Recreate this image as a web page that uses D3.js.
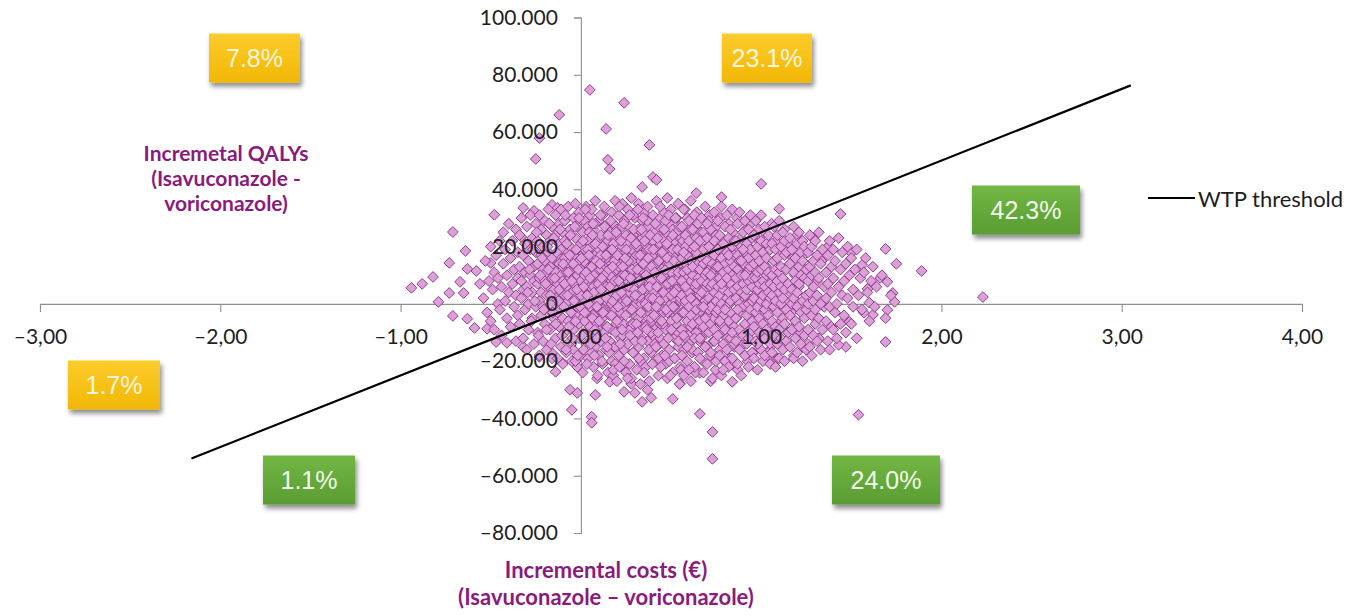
<!DOCTYPE html>
<html>
<head>
<meta charset="utf-8">
<script src="https://cdn.jsdelivr.net/npm/d3@7"></script>
<style>
  html, body { margin: 0; padding: 0; background: #fff; }
  svg { display: block; }
</style>
</head>
<body>
<svg id="chart" width="1357" height="615"></svg>
<script>
// Simulation results: [x, y] with x in axis units and y in thousands (axis shows 20.000 = 20 thousand)
const outerPoints = [
  [.05,74.7],[.24,70.2],[-.12,66],[.14,61.1],[-.23,57.9],[.38,55.5],[-.25,50.6],[.15,50.3],[.16,47.1],
  [.4,44.3],[.42,43.3],[1,41.9],[.34,40.8],[.64,38.7],[.78,37.3],[1.1,33.2],[1.44,31.4],[-.48,31.1],
  [-.32,33.5],[-.26,32.5],[-.16,34.6],[-.13,33.5],[-.71,25.1],[-.64,18.5],[-.73,14.3],[-.82,9.4],
  [-.88,7],[-.94,5.6],[-.73,3.8],[-.79,.7],[-.67,7.7],[-.63,12.2],[-.58,11.5],[-.65,3.8],[-.71,-4.2],
  [-.63,-5.2],[-.59,-8.4],[-.52,-8.7],[-.5,14.3],[-.56,7],[-.47,-13.3],[-.41,-13.6],[-.33,23.4],
  [-.32,-15],[-.23,-18.5],[-.16,-17.1],[-.14,-23.7],[-.1,-20.6],[-.06,-30],[-.02,-31.1],[-.05,-37],
  [.06,-39.4],[.06,-41.5],[.08,-31.8],[.16,-27.2],[.24,-30.7],[.28,-27.9],[.3,-31.1],[.34,-34.2],
  [.37,-30],[.39,-32.8],[.51,-33.2],[.55,-27.9],[.66,-24.1],[.66,-38.4],[.73,-44.7],[.73,-54.1],
  [.84,-27.2],[1.05,-20.6],[1.54,-38.7],[1.69,-13.3],[1.47,-15],[1.43,-14.3],[1.49,-6.3],[1.62,-3.8],
  [1.57,-3.1],[1.6,.4],[1.59,5.2],[1.56,13.6],[1.5,17.8],[1.66,9.1],[1.7,7.7],[1.73,3.8],[1.74,.7],
  [1.7,-2.1],[1.69,19.2],[1.89,11.5],[2.23,2.4]
];

const leftCore = [
  [-.54,2],[-.53,15],[-.52,-3],[-.51,8],[-.5,20],[-.5,-6],[-.49,5],[-.48,11],[-.48,-9],[-.47,17],[-.46,0],[-.46,9],[-.45,22],[-.45,-2],
  [-.44,6],[-.44,-11],[-.43,14],[-.43,25],[-.42,1],[-.42,19],[-.41,-5],[-.41,10],[-.4,28],[-.4,4],[-.39,-8],[-.39,16],[-.38,7],[-.38,22],[-.37,-1],[-.37,12],[-.36,-13],[-.36,3],[-.36,26],[-.35,9],[-.35,18],[-.35,-4],
  [-.34,13],[-.34,-7],[-.34,24],[-.33,2],[-.33,30],[-.33,8],[-.32,-12],[-.32,17],[-.32,5],[-.31,21],[-.31,-2],[-.31,11],[-.3,-16],[-.3,27],[-.3,6],[-.29,15],[-.29,-9],[-.29,0],[-.28,19],[-.28,10],[-.28,31],[-.27,-5],[-.27,4],[-.27,23],[-.26,-14],[-.26,13],[-.26,8],[-.25,-1],[-.25,18],[-.25,28],
  [-.24,7],[-.24,-10],[-.24,22],[-.24,14],[-.23,1],[-.23,31],[-.23,-18],[-.23,9],[-.22,17],[-.22,-4],[-.22,26],[-.22,4],[-.21,12],[-.21,-13],[-.21,20],[-.21,-1],[-.2,8],[-.2,29],[-.2,-7],[-.2,15],[-.19,3],[-.19,24],[-.19,-16],[-.19,11],[-.18,18],[-.18,-2],[-.18,33],[-.18,6],[-.17,-9],[-.17,13],[-.17,22],[-.17,0],[-.16,-19],[-.16,9],[-.16,27],[-.15,16],[-.15,-5],[-.15,5],
  [-.14,11],[-.14,-12],[-.14,24],[-.14,2],[-.14,31],[-.13,7],[-.13,-3],[-.13,17],[-.13,-19],[-.12,14],[-.12,28],[-.12,-8],[-.12,5],[-.12,21],[-.11,0],[-.11,10],[-.11,-15],[-.11,33],[-.11,19],[-.1,-5],[-.1,8],[-.1,25],[-.1,13],[-.1,-21],[-.09,3],[-.09,16],[-.09,-10],[-.09,29],[-.09,22],[-.08,-1],[-.08,11],[-.08,-17],[-.08,6],[-.07,18],[-.07,-6],[-.07,34],[-.07,14],[-.07,1],[-.06,-13],[-.06,9],[-.06,26],[-.06,20],[-.05,-3],[-.05,12],[-.05,-20],[-.05,4]
];

const centreCore = [
  [-.04,17],[-.04,-9],[-.04,30],[-.04,7],[-.04,-16],[-.03,2],[-.03,23],[-.03,13],[-.03,-4],[-.03,35],[-.02,-22],[-.02,10],[-.02,19],[-.02,-1],[-.02,27],[-.01,5],[-.01,-12],[-.01,15],[-.01,-7],[-.01,32],[0,8],[0,21],[0,-18],[0,0],[0,12],[.01,-5],[.01,25],[.01,4],[.01,-24],[.01,16],[.02,10],[.02,-10],[.02,29],[.02,1],[.02,19],[.03,-14],[.03,7],[.03,34],[.03,14],[.03,-3],[.04,22],[.04,-19],[.04,11],[.04,3],[.04,27],[.05,-8],[.05,17],[.05,6],[.05,-1],[.05,31],[.05,13],[-.03,-20],[.02,-6],[0,3],
  [.06,-11],[.06,20],[.06,2],[.06,33],[.06,9],[.07,-22],[.07,14],[.07,-4],[.07,26],[.07,6],[.08,17],[.08,-15],[.08,0],[.08,36],[.08,11],[.09,-7],[.09,23],[.09,4],[.09,-26],[.09,15],[.1,8],[.1,-2],[.1,29],[.1,-18],[.1,19],[.11,12],[.11,-9],[.11,3],[.11,24],[.11,-13],[.12,31],[.12,7],[.12,16],[.12,-5],[.12,-21],[.13,10],[.13,21],[.13,-1],[.13,34],[.13,5],[.14,-16],[.14,13],[.14,27],[.14,-8],[.14,1],[.15,18],[.15,-24],[.15,9],[.15,-3],[.15,22],[.06,-17],[.08,28],[.09,-12],[.1,1],[.11,17],[.12,-2],[.13,-10],[.14,6],[.15,14],[.07,10],
  [.16,4],[.16,-13],[.16,25],[.16,15],[.16,-4],[.17,32],[.17,8],[.17,-20],[.17,19],[.17,0],[.18,11],[.18,-8],[.18,28],[.18,-25],[.18,6],[.19,16],[.19,-2],[.19,36],[.19,-15],[.19,22],[.2,3],[.2,12],[.2,-10],[.2,26],[.2,-27],[.21,9],[.21,-5],[.21,18],[.21,31],[.21,-18],[.22,1],[.22,14],[.22,-12],[.22,23],[.22,7],[.23,-22],[.23,35],[.23,10],[.23,-1],[.23,20],[.24,-7],[.24,5],[.24,29],[.24,16],[.24,-16],[.25,13],[.25,-3],[.25,24],[.25,2],[.25,-24],[.16,10],[.17,-9],[.18,21],[.19,5],[.2,-6],[.21,13],[.22,-3],[.23,27],[.24,9],[.25,18],[.17,14],[.19,-21],[.21,3],[.23,-11],
  [.26,8],[.26,-14],[.26,21],[.26,33],[.26,-2],[.27,12],[.27,-21],[.27,4],[.27,27],[.27,16],[.28,-7],[.28,1],[.28,37],[.28,-26],[.28,19],[.29,10],[.29,-11],[.29,24],[.29,6],[.29,-17],[.3,14],[.3,-4],[.3,30],[.3,0],[.3,22],[.31,-23],[.31,9],[.31,17],[.31,-9],[.31,3],[.32,26],[.32,-15],[.32,12],[.32,35],[.32,-1],[.33,7],[.33,-28],[.33,19],[.33,-6],[.33,15],[.34,2],[.34,29],[.34,-12],[.34,11],[.34,23],[.35,-19],[.35,5],[.35,-3],[.35,18],[.35,32],[.26,13],[.27,-9],[.28,9],[.29,-1],[.3,7],[.31,20],[.32,4],[.33,-20],[.34,-8],[.35,11],[.28,15],[.3,-13],[.32,-5],[.34,17],[.27,-3],[.29,31],
  [.36,10],[.36,-8],[.36,24],[.36,1],[.36,-22],[.37,16],[.37,34],[.37,5],[.37,-13],[.37,20],[.38,-3],[.38,12],[.38,-27],[.38,28],[.38,7],[.39,-17],[.39,14],[.39,2],[.39,22],[.39,-6],[.4,31],[.4,9],[.4,-11],[.4,17],[.4,-1],[.41,25],[.41,-20],[.41,4],[.41,13],[.41,-9],[.42,19],[.42,36],[.42,0],[.42,-15],[.42,11],[.43,-25],[.43,6],[.43,27],[.43,15],[.43,-4],[.44,21],[.44,-12],[.44,3],[.44,30],[.44,9],[.45,-18],[.45,13],[.45,-2],[.45,23],[.45,8],[.36,15],[.37,-1],[.38,19],[.39,-10],[.4,4],[.41,8],[.42,-5],[.43,11],[.44,-7],[.45,17],[.37,27],[.39,8],[.41,-14],[.43,-19],[.38,2],[.4,22],[.42,14],[.44,1],
  [.46,6],[.46,-14],[.46,19],[.46,32],[.46,-3],[.47,11],[.47,-21],[.47,25],[.47,2],[.47,15],[.48,-8],[.48,8],[.48,37],[.48,-26],[.48,20],[.49,13],[.49,-1],[.49,28],[.49,-16],[.49,4],[.5,17],[.5,-10],[.5,23],[.5,0],[.5,33],[.51,-5],[.51,10],[.51,-24],[.51,15],[.51,26],[.52,3],[.52,-12],[.52,21],[.52,7],[.52,-19],[.53,12],[.53,30],[.53,-2],[.53,18],[.53,-7],[.54,5],[.54,24],[.54,-15],[.54,14],[.54,35],[.55,-22],[.55,9],[.55,-4],[.55,20],[.55,1],[.46,10],[.47,-9],[.48,14],[.49,7],[.5,-6],[.51,19],[.52,-1],[.53,4],[.54,-10],[.55,13],[.47,29],[.49,-20],[.51,2],[.53,25],[.48,-3],[.5,11],[.52,16],[.54,9]
];

const rightCore = [
  [.56,16],[.56,-9],[.56,27],[.56,3],[.56,-18],[.57,11],[.57,-3],[.57,33],[.57,7],[.57,-25],[.58,20],[.58,-12],[.58,1],[.58,14],[.58,24],[.59,-6],[.59,9],[.59,-20],[.59,30],[.59,17],[.6,4],[.6,-14],[.6,12],[.6,-1],[.6,22],[.61,-27],[.61,8],[.61,36],[.61,15],[.61,-8],[.62,2],[.62,19],[.62,-16],[.62,26],[.62,10],[.63,-4],[.63,13],[.63,-22],[.63,6],[.63,31],[.64,18],[.64,-10],[.64,0],[.64,23],[.64,-2],[.65,9],[.65,-17],[.65,28],[.65,14],[.65,5],[.56,8],[.57,-11],[.58,6],[.59,12],[.6,29],[.61,-4],[.62,13],[.63,20],[.64,7],[.65,-7],[.57,18],[.59,-15],[.61,2],[.63,-12],[.6,-23],[.62,-7],
  [.66,12],[.66,-6],[.66,22],[.66,-19],[.66,3],[.67,30],[.67,8],[.67,-12],[.67,16],[.67,-1],[.68,25],[.68,-24],[.68,5],[.68,14],[.68,-8],[.69,19],[.69,1],[.69,34],[.69,-15],[.69,10],[.7,-4],[.7,23],[.7,7],[.7,-21],[.7,15],[.71,-10],[.71,29],[.71,2],[.71,12],[.71,-2],[.72,18],[.72,-17],[.72,6],[.72,26],[.72,-7],[.73,11],[.73,-26],[.73,21],[.73,0],[.73,14],[.74,-13],[.74,32],[.74,4],[.74,17],[.74,-5],[.75,9],[.75,-20],[.75,24],[.75,1],[.75,13],[.66,-12],[.67,4],[.68,19],[.69,-5],[.7,11],[.71,20],[.72,-1],[.73,7],[.74,-9],[.75,-3],[.68,-1],[.7,28],[.72,10],[.74,22],
  [.76,6],[.76,-11],[.76,19],[.76,29],[.76,-2],[.77,13],[.77,-18],[.77,3],[.77,24],[.77,9],[.78,-7],[.78,16],[.78,-25],[.78,0],[.78,34],[.79,11],[.79,-14],[.79,21],[.79,5],[.79,-4],[.8,27],[.8,8],[.8,-20],[.8,14],[.8,-9],[.81,2],[.81,18],[.81,-1],[.81,31],[.81,-16],[.82,12],[.82,-6],[.82,23],[.82,4],[.82,-22],[.83,15],[.83,-12],[.83,7],[.83,26],[.83,-3],[.84,10],[.84,-19],[.84,20],[.84,1],[.84,33],[.85,-8],[.85,13],[.85,-14],[.85,5],[.85,17],[.76,13],[.78,7],[.8,-2],[.82,17],[.84,-10],[.77,-6],[.79,-23],[.81,9],[.83,1],[.85,22],
  [.86,9],[.86,-13],[.86,22],[.86,2],[.86,-5],[.87,17],[.87,-21],[.87,28],[.87,6],[.87,12],[.88,-9],[.88,0],[.88,32],[.88,15],[.88,-16],[.89,4],[.89,20],[.89,-3],[.89,10],[.89,-25],[.9,25],[.9,-11],[.9,7],[.9,14],[.9,-1],[.91,18],[.91,-18],[.91,3],[.91,29],[.91,-7],[.92,11],[.92,-14],[.92,21],[.92,5],[.92,-4],[.93,16],[.93,-22],[.93,8],[.93,26],[.93,0],[.94,-10],[.94,13],[.94,-2],[.94,31],[.94,19],[.95,6],[.95,-17],[.95,23],[.95,9],[.95,-6],[.87,-2],[.89,15],[.91,10],[.93,-12],[.95,1],[.9,19],
  [.96,14],[.96,-8],[.96,24],[.96,2],[.96,-19],[.97,9],[.97,-3],[.97,29],[.97,17],[.97,-13],[.98,5],[.98,20],[.98,-23],[.98,11],[.98,-1],[.99,26],[.99,-10],[.99,7],[.99,15],[.99,-5],[1,1],[1,22],[1,-16],[1,12],[1,31],[1.01,-7],[1.01,8],[1.01,18],[1.01,-20],[1.01,3],[1.02,13],[1.02,-2],[1.02,27],[1.02,-12],[1.02,6],[1.03,21],[1.03,-9],[1.03,10],[1.03,0],[1.03,16],[1.04,-17],[1.04,4],[1.04,24],[1.04,-4],[1.04,11],[1.05,-14],[1.05,19],[1.05,7],[1.05,-21],[1.05,2],[.98,-14],[1.02,-18],
  [1.06,10],[1.06,-6],[1.06,21],[1.06,-17],[1.06,3],[1.07,15],[1.07,-11],[1.07,27],[1.07,6],[1.07,-1],[1.08,-22],[1.08,12],[1.08,1],[1.08,19],[1.08,-8],[1.09,24],[1.09,-14],[1.09,8],[1.09,-3],[1.09,16],[1.1,4],[1.1,-19],[1.1,11],[1.1,29],[1.1,-9],[1.11,0],[1.11,20],[1.11,-12],[1.11,13],[1.11,6],[1.12,-5],[1.12,25],[1.12,-16],[1.12,9],[1.12,2],[1.13,17],[1.13,-20],[1.13,5],[1.13,-7],[1.13,22],[1.14,12],[1.14,-2],[1.14,-13],[1.14,18],[1.15,7],[1.15,-10],
  [1.16,14],[1.16,-4],[1.16,23],[1.16,-15],[1.17,5],[1.17,19],[1.17,-9],[1.17,0],[1.18,11],[1.18,-19],[1.18,27],[1.18,2],[1.19,-6],[1.19,16],[1.19,8],[1.19,-12],[1.2,21],[1.2,-1],[1.2,4],[1.2,-17],[1.21,13],[1.21,25],[1.21,-8],[1.21,7],[1.22,-3],[1.22,18],[1.22,-14],[1.22,10],[1.23,1],[1.23,22],[1.23,-20],[1.23,15],[1.24,-5],[1.24,9],[1.24,-11],[1.24,20],[1.25,3],[1.25,12],[1.25,-16],[1.25,-2],
  [1.26,8],[1.26,-9],[1.26,18],[1.26,0],[1.27,-15],[1.27,13],[1.27,24],[1.27,4],[1.28,-4],[1.28,10],[1.28,-18],[1.28,20],[1.29,1],[1.29,15],[1.29,-11],[1.29,6],[1.3,-7],[1.3,22],[1.3,11],[1.3,-2],[1.31,17],[1.31,-13],[1.31,3],[1.32,9],[1.32,-5],[1.32,25],[1.33,14],[1.33,-16],[1.33,0],[1.34,19],[1.34,-9],[1.35,6],
  [1.36,11],[1.36,-6],[1.36,2],[1.37,17],[1.37,-13],[1.37,7],[1.38,-1],[1.38,22],[1.38,-16],[1.39,13],[1.39,4],[1.4,-9],[1.4,19],[1.4,9],[1.41,-3],[1.41,15],[1.42,0],[1.42,-12],[1.43,23],[1.43,6],[1.44,-7],[1.44,12],[1.45,3],[1.45,18],
  [1.46,8],[1.46,-4],[1.47,14],[1.47,-10],[1.48,2],[1.48,20],[1.49,10],[1.5,-7],[1.5,16],[1.51,5],[1.51,-1],[1.52,12],[1.53,-12],[1.53,19],[1.54,3],[1.55,9],
  [1.56,-2],[1.57,11],[1.58,16],[1.59,4],[1.6,-6],[1.61,8],[1.62,13],[1.63,-1],[1.64,6],
  [1.67,10],[1.69,-5],[1.72,3],[1.75,14]
];

const denseCore = [
  [-.295,4],[-.285,12],[-.275,-6],[-.265,19],[-.255,1],[-.245,25],[-.235,-11],[-.225,10],[-.215,16],[-.205,-2],
  [-.195,7],[-.19,-9],[-.185,20],[-.18,12],[-.175,28],[-.17,3],[-.165,-14],[-.16,16],[-.155,-3],[-.15,23],[-.145,9],[-.14,-7],[-.135,18],[-.125,1],[-.115,26],[-.105,-11],
  [-.098,14],[-.094,-1],[-.09,7],[-.086,31],[-.082,-16],[-.078,21],[-.074,3],[-.07,11],[-.066,-8],[-.062,17],[-.058,24],[-.054,-3],[-.05,8],[-.046,-12],[-.042,14],[-.038,1],[-.034,27],[-.03,-6],[-.026,19],[-.022,5],[-.018,-18],[-.014,12],[-.01,30],[-.005,-1],
  [.003,16],[.007,-11],[.012,22],[.016,6],[.021,-3],[.025,33],[.029,11],[.034,-21],[.038,19],[.042,0],[.047,25],[.051,9],[.055,-14],[.06,13],[.064,-5],[.068,28],[.072,4],[.077,-9],[.081,21],[.085,15],[.089,-1],[.093,-25],[.097,7],[.015,-16],[.045,17],[.075,-18],[.035,3],[.065,24],
  [.102,-6],[.106,14],[.109,31],[.113,5],[.117,-20],[.121,20],[.124,-3],[.128,10],[.132,27],[.136,-12],[.14,17],[.143,2],[.147,-8],[.151,24],[.155,12],[.158,-17],[.162,6],[.166,29],[.17,-4],[.173,19],[.177,1],[.181,-23],[.185,15],[.188,8],[.192,-10],[.196,25],[.199,3],[.116,9],[.146,-15],[.176,13],
  [.203,17],[.207,-1],[.21,8],[.214,34],[.218,-14],[.222,22],[.225,4],[.229,-9],[.233,13],[.237,28],[.24,-20],[.244,10],[.248,-4],[.252,19],[.255,1],[.259,-26],[.263,15],[.267,6],[.27,31],[.274,-11],[.278,23],[.282,-2],[.285,12],[.289,-17],[.293,26],[.297,5],[.215,-22],[.245,16],[.275,9],[.29,-7],
  [.302,3],[.306,21],[.309,-7],[.313,12],[.317,33],[.321,-19],[.324,8],[.328,17],[.332,-3],[.336,26],[.339,-13],[.343,5],[.347,14],[.351,-24],[.354,22],[.358,0],[.362,10],[.366,-9],[.369,29],[.373,16],[.377,-16],[.381,6],[.384,24],[.388,-5],[.392,13],[.396,-21],[.399,2],[.315,-10],[.345,30],[.375,-1],
  [.402,19],[.406,-4],[.41,11],[.413,28],[.417,-15],[.421,6],[.425,23],[.428,-10],[.432,15],[.436,1],[.44,34],[.443,-22],[.447,9],[.451,18],[.455,-7],[.458,4],[.462,26],[.466,-18],[.47,12],[.473,-2],[.477,21],[.481,7],[.485,-12],[.488,31],[.492,14],[.496,-25],[.499,3],[.418,-1],[.448,-6],[.478,16],
  [.502,-9],[.506,8],[.51,24],[.513,-1],[.517,15],[.521,-19],[.525,30],[.528,5],[.532,-5],[.536,19],[.54,11],[.543,-13],[.547,27],[.551,2],[.555,-23],[.558,14],[.562,-3],[.566,22],[.57,8],[.573,-16],[.577,33],[.581,0],[.585,17],[.588,-8],[.592,10],[.596,25],[.599,-11],[.518,4],[.548,-28],[.578,12],
  [.602,16],[.606,-5],[.61,3],[.613,27],[.617,-17],[.621,11],[.625,-1],[.628,21],[.632,6],[.636,-24],[.64,14],[.643,32],[.647,-9],[.651,2],[.655,19],[.658,-13],[.662,9],[.666,25],[.67,-3],[.673,15],[.677,-20],[.681,5],[.685,29],[.688,-7],[.692,12],[.696,0],[.699,-15],[.618,23],[.648,7],[.678,-11],
  [.702,20],[.706,-8],[.71,6],[.713,31],[.717,-18],[.721,13],[.725,-2],[.728,24],[.732,3],[.736,-13],[.74,17],[.743,9],[.747,-23],[.751,27],[.755,0],[.758,14],[.762,-6],[.766,21],[.77,-16],[.773,7],[.777,30],[.781,-10],[.785,11],[.788,-1],[.792,18],[.796,-20],[.72,-27],[.76,4],
  [.802,5],[.806,22],[.81,-12],[.813,14],[.817,-3],[.821,28],[.825,8],[.828,-19],[.832,17],[.836,1],[.84,-8],[.843,25],[.847,11],[.851,-15],[.855,4],[.858,19],[.862,-5],[.866,30],[.87,-23],[.873,9],[.877,15],[.881,-10],[.885,2],[.888,23],[.892,-1],[.896,12],
  [.902,-14],[.906,17],[.91,5],[.913,26],[.917,-7],[.921,11],[.925,-20],[.928,20],[.932,1],[.936,14],[.94,-10],[.943,28],[.947,7],[.951,-3],[.955,18],[.958,-17],[.962,10],[.966,3],[.97,23],[.973,-6],[.977,15],[.981,-13],[.985,8],[.992,-1],
  [1.003,16],[1.008,-10],[1.013,4],[1.018,25],[1.023,-4],[1.028,13],[1.033,-17],[1.038,9],[1.043,20],[1.048,0],[1.053,-8],[1.058,28],[1.063,6],[1.068,-14],[1.073,15],[1.078,-2],[1.083,22],[1.088,10],[1.093,-19],[1.098,3],
  [1.104,18],[1.11,-6],[1.117,8],[1.123,-15],[1.13,26],[1.136,1],[1.143,13],[1.149,-10],[1.155,21],[1.162,4],[1.168,-3],[1.175,16],[1.181,-18],[1.187,10],[1.193,-7],[1.199,24],
  [1.21,6],[1.22,-10],[1.235,17],[1.245,1],[1.26,-14],[1.27,11],[1.285,23],[1.295,-4],[1.31,8],[1.32,-12],[1.335,15],[1.35,-1],[1.37,20],[1.39,-8]
];

// Willingness-to-pay threshold line (end points)
const wtpLine = [[-2.16, -54], [3.05, 76.3]];

const xTicks = [-3, -2, -1, 0, 1, 2, 3, 4];
const xTickLabels = ["\u20133,00", "\u20132,00", "\u20131,00", "0,00", "1,00", "2,00", "3,00", "4,00"];
const yTicks = [-80, -60, -40, -20, 0, 20, 40, 60, 80, 100];
const yTickLabels = ["\u201380.000", "\u201360.000", "\u201340.000", "\u201320.000", "0", "20.000", "40.000", "60.000", "80.000", "100.000"];

// Share of simulations per region
const shareLabels = ["7.8%", "23.1%", "42.3%", "1.7%", "1.1%", "24.0%"];
const shareKinds  = ["yellow", "yellow", "green", "yellow", "green", "green"];

const yTitleLines = ["Incremetal QALYs", "(Isavuconazole -", "voriconazole)"];
const xTitleLines = ["Incremental costs (\u20ac)", "(Isavuconazole \u2013 voriconazole)"];
const legendLabel = "WTP threshold";

// ---- layout ----
const boxLayout = [
  { cx: 254.5, cy: 58,  w: 91 },
  { cx: 767,   cy: 58,  w: 90 },
  { cx: 1026,  cy: 210, w: 108 },
  { cx: 114,   cy: 385, w: 92 },
  { cx: 309,   cy: 480, w: 92 },
  { cx: 886,   cy: 480, w: 108 }
];
const boxH = 49;

const svg = d3.select("#chart");
const x = d3.scaleLinear().domain([-3, 4]).range([40, 1302]);
const y = d3.scaleLinear().domain([-80, 100]).range([533, 17.5]);

const defs = svg.append("defs");
const gradY = defs.append("linearGradient").attr("id", "gYellow").attr("x1", 0).attr("y1", 0).attr("x2", 0).attr("y2", 1);
gradY.append("stop").attr("offset", "0%").attr("stop-color", "#fbcc2c");
gradY.append("stop").attr("offset", "100%").attr("stop-color", "#f2b705");
const gradG = defs.append("linearGradient").attr("id", "gGreen").attr("x1", 0).attr("y1", 0).attr("x2", 0).attr("y2", 1);
gradG.append("stop").attr("offset", "0%").attr("stop-color", "#72b644");
gradG.append("stop").attr("offset", "100%").attr("stop-color", "#5a9d33");
const shadow = defs.append("filter").attr("id", "boxShadow").attr("x", "-20%").attr("y", "-20%").attr("width", "150%").attr("height", "160%");
shadow.append("feDropShadow").attr("dx", 2).attr("dy", 4).attr("stdDeviation", 2.5)
  .attr("flood-color", "#000").attr("flood-opacity", 0.45);

const fontTick = "Lato, 'Open Sans', sans-serif";
const axisColor = "#8f8f8f";

// axis lines and tick marks (under the points)
const xAxisG = svg.append("g").attr("transform", `translate(0,${y(0)})`)
  .call(d3.axisBottom(x).tickValues(xTicks).tickFormat("").tickSize(8).tickSizeOuter(8));
const yAxisG = svg.append("g").attr("transform", `translate(${x(0)},0)`)
  .call(d3.axisLeft(y).tickValues(yTicks).tickFormat("").tickSize(7).tickSizeOuter(7));
[xAxisG, yAxisG].forEach(g => {
  g.selectAll("path, line").attr("stroke", axisColor).attr("stroke-width", 1.1);
});

// simulation points
const allPoints = outerPoints.concat(leftCore, centreCore, denseCore, rightCore);
const diamond = d3.symbol().type(d3.symbolSquare).size(58);
svg.append("g").selectAll("path")
  .data(allPoints)
  .join("path")
  .attr("d", diamond)
  .attr("transform", d => `translate(${x(d[0])},${y(d[1])}) rotate(45)`)
  .attr("fill", "#daa0d7")
  .attr("stroke", "#8f3689")
  .attr("stroke-width", 0.9);

// WTP threshold line
svg.append("path")
  .datum(wtpLine)
  .attr("d", d3.line().x(d => x(d[0])).y(d => y(d[1])))
  .attr("stroke", "#000").attr("stroke-width", 2.2).attr("fill", "none");

// tick labels (drawn above the points)
const xLab = svg.append("g").attr("transform", `translate(0,${y(0)})`)
  .call(d3.axisBottom(x).tickValues(xTicks).tickFormat((d, i) => xTickLabels[i]).tickSize(0).tickPadding(25));
const yLab = svg.append("g").attr("transform", `translate(${x(0)},0)`)
  .call(d3.axisLeft(y).tickValues(yTicks).tickFormat((d, i) => yTickLabels[i]).tickSize(0).tickPadding(23));
[xLab, yLab].forEach(g => {
  g.select(".domain").remove();
  g.selectAll("line").remove();
  g.selectAll("text").attr("font-family", fontTick).attr("font-size", 21).attr("fill", "#1e1e1e");
});

// region share boxes
const boxes = svg.append("g").selectAll("g")
  .data(shareLabels)
  .join("g")
  .attr("transform", (d, i) => `translate(${boxLayout[i].cx},${boxLayout[i].cy})`);
boxes.append("rect")
  .attr("x", (d, i) => -boxLayout[i].w / 2).attr("y", -boxH / 2)
  .attr("width", (d, i) => boxLayout[i].w).attr("height", boxH)
  .attr("fill", (d, i) => shareKinds[i] === "yellow" ? "url(#gYellow)" : "url(#gGreen)")
  .attr("filter", "url(#boxShadow)");
boxes.append("text")
  .attr("text-anchor", "middle").attr("dominant-baseline", "central")
  .attr("font-family", "'Liberation Sans', Arial, sans-serif").attr("font-size", 25)
  .attr("fill", (d, i) => shareKinds[i] === "yellow" ? "#fff6dc" : "#f2fbe9")
  .text(d => d);

// axis titles
const titleColor = "#8a1b7c";
svg.append("g").selectAll("text").data(yTitleLines).join("text")
  .attr("x", 226).attr("y", (d, i) => 152 + i * 25)
  .attr("text-anchor", "middle").attr("dominant-baseline", "central")
  .attr("font-family", fontTick).attr("font-weight", 700).attr("font-size", 21)
  .attr("fill", titleColor).text(d => d);
svg.append("g").selectAll("text").data(xTitleLines).join("text")
  .attr("x", 606).attr("y", (d, i) => 569 + i * 27)
  .attr("text-anchor", "middle").attr("dominant-baseline", "central")
  .attr("font-family", fontTick).attr("font-weight", 700).attr("font-size", 22)
  .attr("fill", titleColor).text(d => d);

// legend
const legend = svg.append("g").attr("transform", "translate(1148,198)");
legend.append("line").attr("x1", 0).attr("x2", 47).attr("y1", 0).attr("y2", 0)
  .attr("stroke", "#000").attr("stroke-width", 2);
legend.append("text").attr("x", 50).attr("y", 0).attr("dominant-baseline", "central")
  .attr("font-family", fontTick).attr("font-size", 22).attr("fill", "#1e1e1e")
  .text(legendLabel);
</script>
</body>
</html>
